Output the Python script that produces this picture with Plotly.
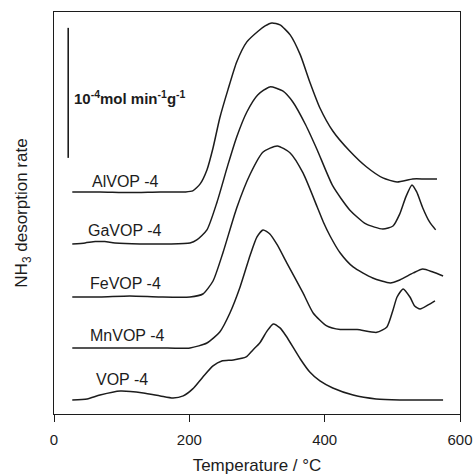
import plotly.graph_objects as go

# NH3-TPD curves, rate in 1e-4 mol min-1 g-1 above each curve's own baseline
samples = ["AlVOP -4", "GaVOP -4", "FeVOP -4", "MnVOP -4", "VOP -4"]
offsets = [1.708, 1.308, 0.900, 0.508, 0.108]

temp_al = [27, 68, 112, 157, 194, 205, 216, 226, 235, 245, 257, 270, 285, 302, 312, 322, 334, 349, 364,
           378, 393, 412, 437, 462, 486, 507, 530, 548, 566]
rate_al = [0, 0, -0.004, 0, 0, 0.008, 0.062, 0.169, 0.338, 0.569, 0.785, 1.0, 1.154, 1.238, 1.277, 1.3,
           1.285, 1.208, 1.054, 0.846, 0.646, 0.469, 0.315, 0.192, 0.108, 0.077, 0.1, 0.1, 0.1]

temp_ga = [27, 46, 61, 75, 90, 127, 171, 201, 211, 226, 241, 257, 270, 285, 301, 319, 338, 353, 372, 389,
           412, 437, 461, 486, 501, 511, 520, 529, 536, 545, 555, 564]
rate_ga = [0, 0.008, 0.018, 0.018, 0.008, 0, 0, 0.008, 0.031, 0.108, 0.323, 0.608, 0.823, 1.015, 1.146,
           1.208, 1.177, 1.092, 0.915, 0.723, 0.446, 0.262, 0.154, 0.115, 0.138, 0.231, 0.362, 0.454, 0.4,
           0.277, 0.169, 0.108]

temp_fe = [27, 68, 112, 157, 201, 220, 235, 250, 270, 290, 309, 330, 349, 368, 389, 398, 408, 423, 442,
           471, 497, 511, 531, 545, 560, 575]
rate_fe = [0, 0, 0.008, 0, 0, 0.023, 0.123, 0.346, 0.685, 0.946, 1.115, 1.162, 1.108, 0.954, 0.692, 0.577,
           0.469, 0.338, 0.231, 0.146, 0.108, 0.131, 0.185, 0.215, 0.192, 0.162]

temp_mn = [27, 68, 112, 157, 201, 226, 245, 260, 275, 290, 300, 309, 319, 330, 344, 368, 383, 403, 423,
           448, 477, 492, 501, 507, 516, 526, 533, 541, 553, 563]
rate_mn = [0, 0, 0, 0, 0, 0.038, 0.123, 0.269, 0.469, 0.715, 0.854, 0.908, 0.877, 0.792, 0.654, 0.423,
           0.269, 0.17, 0.142, 0.142, 0.12, 0.162, 0.292, 0.392, 0.454, 0.392, 0.323, 0.3, 0.331, 0.362]

temp_v = [27, 49, 68, 98, 132, 157, 176, 191, 205, 220, 235, 248, 265, 284, 294, 304, 315, 324, 334, 343,
          364, 378, 393, 412, 442, 476, 511, 575]
rate_v = [0, 0.008, 0.038, 0.069, 0.054, 0.031, 0.015, 0.031, 0.085, 0.177, 0.262, 0.3, 0.308, 0.331,
          0.385, 0.438, 0.531, 0.585, 0.554, 0.492, 0.315, 0.215, 0.146, 0.092, 0.038, 0.008, 0, 0]

temps = [temp_al, temp_ga, temp_fe, temp_mn, temp_v]
rates = [rate_al, rate_ga, rate_fe, rate_mn, rate_v]

# scale bar = 1 unit (1e-4 mol min-1 g-1)
scale_T = 21
scale_bottom = 1.97
scale_len = 1.0

label_T = [105, 105, 105, 108, 100]
label_y = [1.785, 1.415, 1.0, 0.6, 0.262]

ink = "#1c1c1c"
fig = go.Figure()

for name, t, r, off in zip(samples, temps, rates, offsets):
    fig.add_trace(go.Scatter(x=t, y=[v + off for v in r], mode="lines", name=name,
                             line=dict(color=ink, width=1.5, shape="spline", smoothing=0.6)))

fig.add_trace(go.Scatter(x=[scale_T, scale_T], y=[scale_bottom, scale_bottom + scale_len],
                         mode="lines", line=dict(color=ink, width=1.6)))

for name, lx, ly in zip(samples, label_T, label_y):
    fig.add_annotation(x=lx, y=ly, text=name, showarrow=False, xanchor="center", yanchor="middle",
                       font=dict(size=16, color=ink))

fig.add_annotation(x=26, y=2.431, text="<b>10<sup>-4</sup>mol min<sup>-1</sup>g<sup>-1</sup></b>",
                   showarrow=False, xanchor="left", yanchor="middle", font=dict(size=15, color=ink))

fig.update_layout(
    width=473, height=476,
    margin=dict(l=54, r=13, t=12, b=62, autoexpand=False),
    plot_bgcolor="white", paper_bgcolor="white",
    showlegend=False,
    font=dict(family="Liberation Sans, Arial, sans-serif", color=ink),
)
fig.update_xaxes(range=[0, 600], tickvals=[0, 200, 400, 600], ticks="outside", ticklen=7,
                 tickcolor=ink, tickfont=dict(size=15), ticklabelstandoff=5, showgrid=False,
                 zeroline=False, showline=True, linecolor=ink, linewidth=1.2, mirror=True,
                 automargin=False,
                 title=dict(text="Temperature / °C", font=dict(size=17), standoff=12))
fig.update_yaxes(range=[0, 3.092], showticklabels=False, ticks="", showgrid=False, zeroline=False,
                 showline=True, linecolor=ink, linewidth=1.2, mirror=True, automargin=False,
                 title=dict(text="NH<sub>3</sub> desorption rate", font=dict(size=17), standoff=20))

# drop the default 8px body margin so the 473x476 figure fills the window exactly
fig.write_html("out.html", config={"displayModeBar": False},
               post_script="document.body.style.margin='0';document.body.style.overflow='hidden';")
